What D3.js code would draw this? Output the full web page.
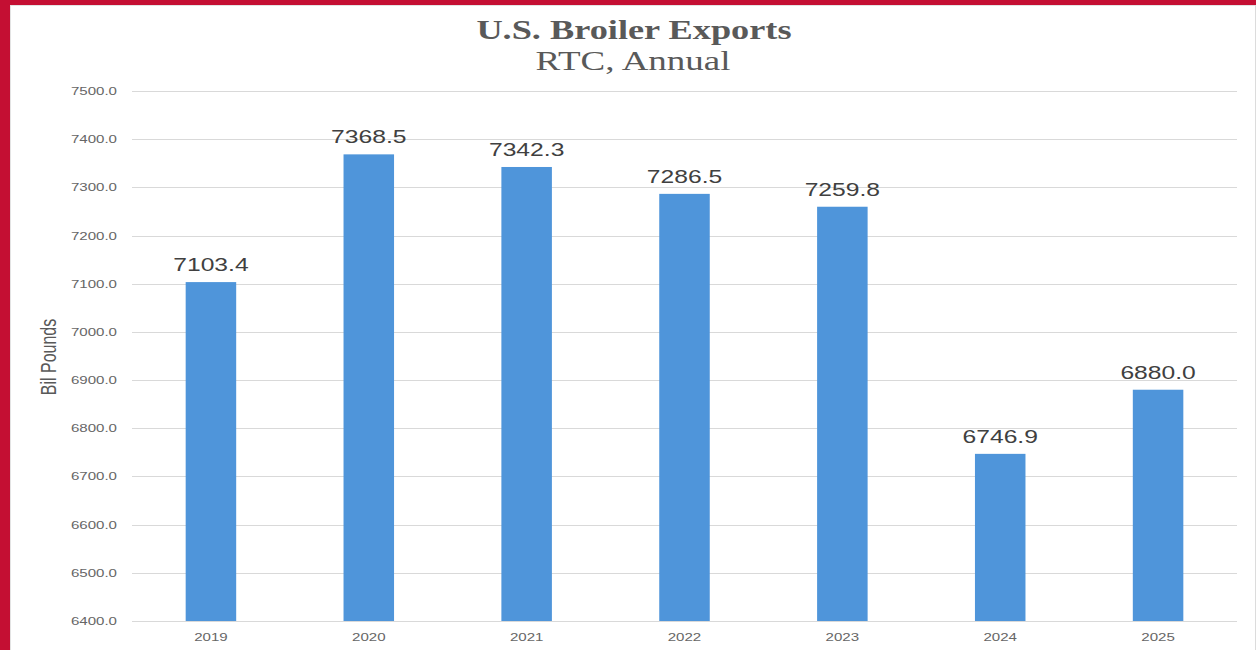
<!DOCTYPE html>
<html>
<head>
<meta charset="utf-8">
<script src="https://cdn.jsdelivr.net/npm/d3@7"></script>
<style>
  body { margin: 0; background: #fff; }
  svg { display: block; }
</style>
</head>
<body>
<div id="chart"></div>
<script>
const years = ["2019", "2020", "2021", "2022", "2023", "2024", "2025"]
const exportsRTC = [7103.4, 7368.5, 7342.3, 7286.5, 7259.8, 6746.9, 6880.0]
const yTicks = [6400, 6500, 6600, 6700, 6800, 6900, 7000, 7100, 7200, 7300, 7400, 7500]

const width = 1256, height = 650
// the picture is stretched sideways, so text gets a horizontal scale too
const sx = 1.37

const svg = d3.select("#chart")
  .append("svg")
    .attr("width", width)
    .attr("height", height)

// red frame on left and top
svg.append("rect").attr("x", 0).attr("y", 0).attr("width", width).attr("height", 5).attr("fill", "#c40f33")
svg.append("rect").attr("x", 0).attr("y", 0).attr("width", 10).attr("height", height).attr("fill", "#c40f33")
svg.append("line").attr("x1", 10).attr("x2", width).attr("y1", 5.5).attr("y2", 5.5).attr("stroke", "#e3e3e3")
svg.append("line").attr("x1", 10.5).attr("x2", 10.5).attr("y1", 5).attr("y2", height).attr("stroke", "#e3e3e3")
svg.append("line").attr("x1", 1255.5).attr("x2", 1255.5).attr("y1", 5).attr("y2", height).attr("stroke", "#dcdcdc")

var x = d3.scaleBand()
  .domain(years)
  .range([132, 1237])
  .paddingInner(0.68)
  .paddingOuter(0.34)

var y = d3.scaleLinear()
  .domain([6400, 7500])
  .range([621, 91])

function stretched(sel, px, py) {
  return sel.attr("transform", "translate(" + px + "," + py + ") scale(" + sx + ",1)")
}

// gridlines
svg.selectAll(".grid")
  .data(yTicks)
  .enter()
  .append("line")
    .attr("x1", 132)
    .attr("x2", 1237)
    .attr("y1", d => Math.round(y(d)) + 0.5)
    .attr("y2", d => Math.round(y(d)) + 0.5)
    .attr("stroke", "#d9d9d9")
    .attr("stroke-width", 1)

// y tick labels
svg.selectAll(".ytick")
  .data(yTicks)
  .enter()
  .append("text")
    .text(d => d.toFixed(1))
    .each(function(d) { stretched(d3.select(this), 117, y(d) + 4) })
    .style("text-anchor", "end")
    .style("font-family", "Liberation Sans, Arial, sans-serif")
    .style("font-size", "11px")
    .style("fill", "#666666")

// bars
svg.selectAll(".bar")
  .data(exportsRTC)
  .enter()
  .append("rect")
    .attr("x", (d, i) => x(years[i]))
    .attr("width", x.bandwidth())
    .attr("y", d => y(d))
    .attr("height", d => y(6400) - y(d))
    .attr("fill", "#4f95da")

// value labels
svg.selectAll(".val")
  .data(exportsRTC)
  .enter()
  .append("text")
    .text(d => d.toFixed(1))
    .each(function(d, i) { stretched(d3.select(this), x(years[i]) + x.bandwidth() / 2, y(d) - 11) })
    .style("text-anchor", "middle")
    .style("font-family", "Liberation Sans, Arial, sans-serif")
    .style("font-size", "18px")
    .style("fill", "#404040")

// x labels
svg.selectAll(".xtick")
  .data(years)
  .enter()
  .append("text")
    .text(d => d)
    .each(function(d) { stretched(d3.select(this), x(d) + x.bandwidth() / 2, 641) })
    .style("text-anchor", "middle")
    .style("font-family", "Liberation Sans, Arial, sans-serif")
    .style("font-size", "11px")
    .style("fill", "#666666")

// axis title
svg.append("text")
  .text("Bil Pounds")
  .attr("transform", "translate(56,357) scale(" + sx + ",1) rotate(-90)")
  .style("text-anchor", "middle")
  .style("font-family", "Liberation Sans, Arial, sans-serif")
  .style("font-size", "16px")
  .style("fill", "#595959")

// titles
stretched(svg.append("text"), 634, 39)
  .text("U.S. Broiler Exports")
  .style("text-anchor", "middle")
  .style("font-family", "Liberation Serif, Times New Roman, serif")
  .style("font-weight", "bold")
  .style("font-size", "26.5px")
  .style("fill", "#595959")

stretched(svg.append("text"), 633, 70)
  .text("RTC, Annual")
  .style("text-anchor", "middle")
  .style("font-family", "Liberation Serif, Times New Roman, serif")
  .style("font-size", "27px")
  .style("fill", "#595959")
</script>
</body>
</html>
